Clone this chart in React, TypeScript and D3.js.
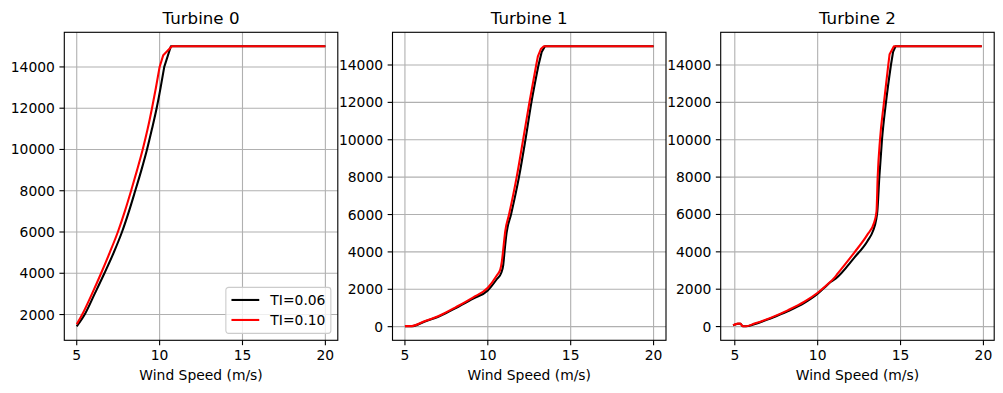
import React from "react";
import * as d3 from "d3";

const turbineNames = ["Turbine 0", "Turbine 1", "Turbine 2"];
const tiLabels = ["TI=0.06", "TI=0.10"];
const tiColors = ["#000000", "#ff0000"];
const xTicks = [5, 10, 15, 20];
const yTicksT0 = [2000, 4000, 6000, 8000, 10000, 12000, 14000];
const yTicksT12 = [0, 2000, 4000, 6000, 8000, 10000, 12000, 14000];

// turbine 0
const t0WsLo = [5, 5.48, 6.08, 6.67, 7.23, 7.73, 8.15, 8.53, 8.9, 9.24, 9.54, 9.82, 10.06, 10.28, 10.68, 20];
const t0PwLo = [1430, 2000, 3000, 4000, 5000, 6000, 7000, 8000, 9000, 10000, 11000, 12000, 13000, 14000, 15000, 15000];
const t0WsHi = [5, 5.33, 5.92, 6.47, 6.99, 7.48, 7.9, 8.28, 8.64, 8.98, 9.28, 9.54, 9.78, 10.0, 10.22, 10.74, 20];
const t0PwHi = [1530, 2000, 3000, 4000, 5000, 6000, 7000, 8000, 9000, 10000, 11000, 12000, 13000, 14000, 14570, 15000, 15000];

// turbine 1
const t1WsLo = [5, 5.4, 6.13, 7.11, 8.1, 9.09, 10.0, 10.55, 10.82, 10.93, 11.03, 11.13, 11.4, 11.88, 12.27, 12.63, 13.06, 13.25, 13.45, 20];
const t1PwLo = [20, 20, 250, 570, 1010, 1490, 1940, 2550, 2900, 3300, 4200, 5000, 6000, 8000, 10000, 12000, 14000, 14700, 15000, 15000];
const t1WsHi = [5, 5.4, 6.1, 7.1, 8.1, 9.1, 10.0, 10.55, 10.75, 10.85, 10.95, 11.05, 11.28, 11.74, 12.13, 12.51, 12.92, 13.02, 13.2, 13.38, 20];
const t1PwHi = [30, 30, 260, 600, 1060, 1560, 2080, 2750, 3050, 3500, 4300, 5100, 6000, 8000, 10000, 12000, 14000, 14460, 14850, 15000, 15000];

// turbine 2
const t2WsLo = [4.9, 5.18, 5.34, 5.48, 5.68, 6.18, 7.19, 8.19, 9.2, 10.0, 10.4, 10.8, 11.1, 12.2, 13.0, 13.33, 13.53, 13.6, 13.72, 13.88, 14.12, 14.42, 14.55, 14.7, 19.9];
const t2PwLo = [60, 150, 150, 15, 15, 124, 450, 818, 1270, 1760, 2080, 2400, 2580, 3680, 4570, 5100, 5730, 6170, 8000, 10000, 12000, 14000, 14700, 15000, 15000];
const t2WsHi = [4.9, 5.18, 5.34, 5.48, 5.68, 6.18, 7.19, 8.19, 9.2, 10.0, 10.6, 11.0, 11.2, 12.2, 13.0, 13.4, 13.55, 13.62, 13.76, 14.0, 14.26, 14.34, 14.6, 19.9];
const t2PwHi = [70, 160, 160, 18, 18, 160, 480, 870, 1330, 1810, 2260, 2610, 2830, 3950, 4920, 5550, 6170, 8000, 10000, 12000, 14000, 14580, 15000, 15000];

const panels = [
  { ws: [t0WsLo, t0WsHi], pw: [t0PwLo, t0PwHi], yTicks: yTicksT0, legend: true },
  { ws: [t1WsLo, t1WsHi], pw: [t1PwLo, t1PwHi], yTicks: yTicksT12, legend: false },
  { ws: [t2WsLo, t2WsHi], pw: [t2PwLo, t2PwHi], yTicks: yTicksT12, legend: false },
];

const W = 1003;
const H = 393;
const axW = 273.5;
const axGap = 54.7;
const axLeft0 = 64.3;
const axTop = 32.3;
const axH = 308;
const fs = 13.89;
const font = "DejaVu Sans, sans-serif";
// above this the curves go straight into rated power, so no smoothing there
const sharpFrom = 14000;

// matplotlib style 5% padding around the data range
const padded = (lo: number, hi: number) => {
  const m = (hi - lo) * 0.05;
  return [lo - m, hi + m];
};

const Panel = ({ idx }: { idx: number }) => {
  const p = panels[idx];
  const left = axLeft0 + idx * (axW + axGap);
  const allWs = p.ws.flat();
  const allPw = p.pw.flat();

  const x = d3
    .scaleLinear()
    .domain(padded(d3.min(allWs)!, d3.max(allWs)!))
    .range([0, axW]);
  const y = d3
    .scaleLinear()
    .domain(padded(d3.min(allPw)!, d3.max(allPw)!))
    .range([axH, 0]);

  const smooth = d3
    .line<[number, number]>()
    .x((d) => x(d[0]))
    .y((d) => y(d[1]))
    .curve(d3.curveMonotoneX);

  const curvePath = (ws: number[], pw: number[]) => {
    const k = pw.findIndex((v) => v >= sharpFrom);
    const pts = ws.map((v, i) => [v, pw[i]] as [number, number]);
    const rise = smooth(pts.slice(0, k + 1)) || "";
    const rest = pts
      .slice(k + 1)
      .map((d) => `L${x(d[0])},${y(d[1])}`)
      .join("");
    return rise + rest;
  };

  const legW = 105;
  const legH = 46;
  const legX = axW - 6.94 - legW;
  const legY = axH - 6.94 - legH;

  return (
    <g transform={`translate(${left},${axTop})`}>
      <defs>
        <clipPath id={`clip${idx}`}>
          <rect x={0} y={0} width={axW} height={axH} />
        </clipPath>
      </defs>
      {/* grid */}
      {xTicks.map((t) => (
        <line key={"gx" + t} x1={x(t)} x2={x(t)} y1={0} y2={axH} stroke="#b0b0b0" strokeWidth={1.1} />
      ))}
      {p.yTicks.map((t) => (
        <line key={"gy" + t} x1={0} x2={axW} y1={y(t)} y2={y(t)} stroke="#b0b0b0" strokeWidth={1.1} />
      ))}
      {/* curves */}
      <g clipPath={`url(#clip${idx})`}>
        {p.ws.map((ws, k) => (
          <path
            key={k}
            d={curvePath(ws, p.pw[k])}
            fill="none"
            stroke={tiColors[k]}
            strokeWidth={2.08}
            strokeLinejoin="round"
            strokeLinecap="butt"
          />
        ))}
      </g>
      {/* spines */}
      <rect x={0} y={0} width={axW} height={axH} fill="none" stroke="#000" strokeWidth={1.11} />
      {/* x ticks */}
      {xTicks.map((t) => (
        <g key={"xt" + t} transform={`translate(${x(t)},${axH})`}>
          <line y1={0} y2={4.86} stroke="#000" strokeWidth={1.11} />
          <text y={20.2} textAnchor="middle" fontSize={fs} fontFamily={font} fill="#000">
            {t}
          </text>
        </g>
      ))}
      {/* y ticks */}
      {p.yTicks.map((t) => (
        <g key={"yt" + t} transform={`translate(0,${y(t)})`}>
          <line x1={0} x2={-4.86} stroke="#000" strokeWidth={1.11} />
          <text x={-9.4} dy="0.36em" textAnchor="end" fontSize={fs} fontFamily={font} fill="#000">
            {t}
          </text>
        </g>
      ))}
      <text x={axW / 2} y={-8.3} textAnchor="middle" fontSize={16.67} fontFamily={font} fill="#000">
        {turbineNames[idx]}
      </text>
      <text x={axW / 2} y={379.6 - axTop} textAnchor="middle" fontSize={fs} fontFamily={font} fill="#000">
        Wind Speed (m/s)
      </text>
      {p.legend && (
        <g transform={`translate(${legX},${legY})`}>
          <rect width={legW} height={legH} rx={2.8} fill="#fff" fillOpacity={0.8} stroke="#cccccc" strokeWidth={1.1} />
          {tiLabels.map((lab, k) => (
            <g key={lab} transform={`translate(0,${12.6 + k * 20})`}>
              <line x1={5.6} x2={33.4} y1={0} y2={0} stroke={tiColors[k]} strokeWidth={2.08} />
              <text x={44.5} dy="0.36em" fontSize={fs} fontFamily={font} fill="#000">
                {lab}
              </text>
            </g>
          ))}
        </g>
      )}
    </g>
  );
};

export default function App() {
  return (
    <svg
      width={W}
      height={H}
      viewBox={`0 0 ${W} ${H}`}
      style={{ position: "absolute", left: 0, top: 0, background: "#fff" }}
    >
      <rect width={W} height={H} fill="#fff" />
      {panels.map((_, i) => (
        <Panel key={i} idx={i} />
      ))}
    </svg>
  );
}
